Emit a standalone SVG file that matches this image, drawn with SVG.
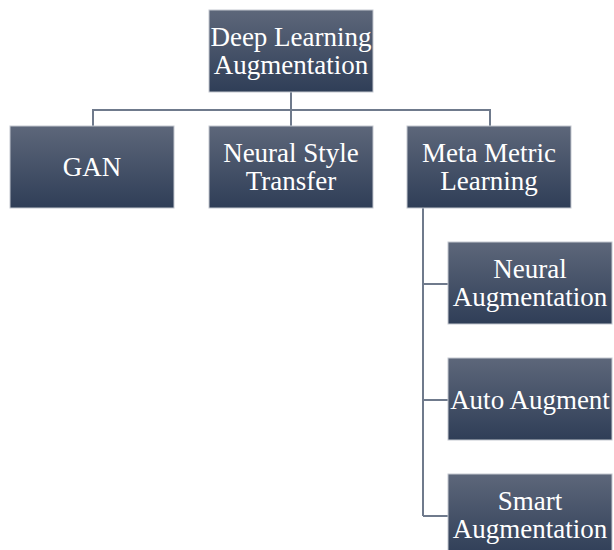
<svg xmlns="http://www.w3.org/2000/svg" width="614" height="550" viewBox="0 0 614 550">
<defs>
<linearGradient id="g" x1="0" y1="0" x2="0" y2="1">
<stop offset="0" stop-color="#5d677a"/>
<stop offset="1" stop-color="#2f3e57"/>
</linearGradient>
<style>
.box{fill:url(#g);stroke:#c3c7cf;stroke-width:1}
.t{font-family:"Liberation Serif","Times New Roman",serif;font-size:27px;fill:#ffffff;text-anchor:middle}
.c{fill:none;stroke:#6f7a8c;stroke-width:2}
</style>
</defs>
<rect width="614" height="550" fill="#ffffff"/>
<g id="connectors">
<path class="c" d="M291 92 V126 M93 126 V110 H490 V126 M423 208 V516 M423 284 H448 M423 400 H448 M423 516 H448"/>
</g>
<g id="deep-learning-augmentation">
<rect class="box" x="209" y="10" width="164" height="82"/>
<text class="t" x="291" y="46">Deep Learning</text>
<text class="t" x="291" y="74">Augmentation</text>
</g>
<g id="gan">
<rect class="box" x="10" y="126" width="164" height="82"/>
<text class="t" x="92" y="176">GAN</text>
</g>
<g id="neural-style-transfer">
<rect class="box" x="209" y="126" width="164" height="82"/>
<text class="t" x="291" y="162">Neural Style</text>
<text class="t" x="291" y="190">Transfer</text>
</g>
<g id="meta-metric-learning">
<rect class="box" x="407" y="126" width="164" height="82"/>
<text class="t" x="489" y="162">Meta Metric</text>
<text class="t" x="489" y="190">Learning</text>
</g>
<g id="neural-augmentation">
<rect class="box" x="448" y="242" width="164" height="82"/>
<text class="t" x="530" y="278">Neural</text>
<text class="t" x="530" y="306">Augmentation</text>
</g>
<g id="auto-augment">
<rect class="box" x="448" y="358" width="164" height="82"/>
<text class="t" x="530" y="409">Auto Augment</text>
</g>
<g id="smart-augmentation">
<rect class="box" x="448" y="474" width="164" height="82"/>
<text class="t" x="530" y="510">Smart</text>
<text class="t" x="530" y="538">Augmentation</text>
</g>
</svg>
